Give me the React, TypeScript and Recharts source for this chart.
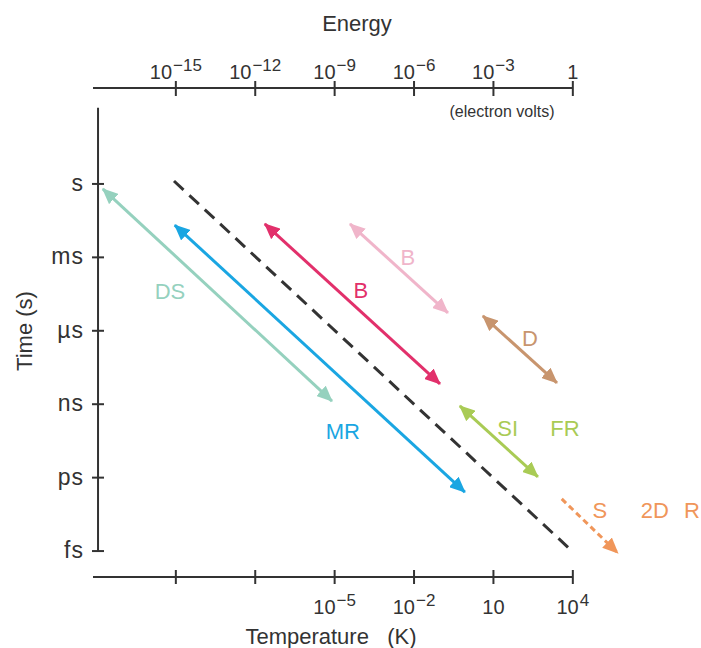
import React from 'react';
import {
  ComposedChart,
  Line,
  XAxis,
  YAxis,
  ReferenceLine,
  ReferenceDot,
} from 'recharts';

// log10 of energy (eV) on x, log10 of time (s) on y
const dsArrow = [
  { x: -17.76, y: -0.2 },
  { x: -9.1, y: -8.87 },
];
const mrArrow = [
  { x: -15.04, y: -1.68 },
  { x: -4.08, y: -12.59 },
];
const limitLine = [
  { x: -15.07, y: 0.12 },
  { x: -0.15, y: -14.88 },
];
const bDarkArrow = [
  { x: -11.64, y: -1.63 },
  { x: -5.02, y: -8.17 },
];
const bLightArrow = [
  { x: -8.42, y: -1.63 },
  { x: -4.72, y: -5.27 },
];
const dArrow = [
  { x: -3.4, y: -5.39 },
  { x: -0.6, y: -8.13 },
];
const siArrow = [
  { x: -4.27, y: -9.07 },
  { x: -1.32, y: -11.97 },
];
const sArrow = [
  { x: -0.42, y: -12.87 },
  { x: 1.7, y: -15.08 },
];

const timeTicks = [0, -3, -6, -9, -12, -15];
const timeLabels = ['s', 'ms', 'µs', 'ns', 'ps', 'fs'];

const energyTicks = [-15, -12, -9, -6, -3, 0];
const energyBase = ['10', '10', '10', '10', '10', '1'];
const energyExp = ['−15', '−12', '−9', '−6', '−3', ''];
const tempBase = ['', '', '10', '10', '10', '10'];
const tempExp = ['', '', '−5', '−2', '', '4'];

const labels = [
  { x: -15.22, y: -4.37, text: 'DS', color: '#95d1be' },
  { x: -8.69, y: -10.09, text: 'MR', color: '#1aa6e2' },
  { x: -8.01, y: -4.33, text: 'B', color: '#e2306b' },
  { x: -6.23, y: -2.98, text: 'B', color: '#f0b5ca' },
  { x: -1.62, y: -6.29, text: 'D', color: '#c8956e' },
  { x: -2.46, y: -9.97, text: 'SI', color: '#a9cb55' },
  { x: -0.3, y: -9.97, text: 'FR', color: '#a9cb55' },
  { x: 1.02, y: -13.32, text: 'S', color: '#f0965a' },
  { x: 3.1, y: -13.32, text: '2D', color: '#f0965a' },
  { x: 4.5, y: -13.32, text: 'R', color: '#f0965a' },
];

const X_DOMAIN: [number, number] = [-18.13, 2.5];
const Y_DOMAIN: [number, number] = [-16.06, 3.92];
const FONT = '"Liberation Sans", Arial, sans-serif';
const INK = '#333';

const markers = [
  { id: 'm-ds', color: '#95d1be' },
  { id: 'm-mr', color: '#1aa6e2' },
  { id: 'm-bd', color: '#e2306b' },
  { id: 'm-bl', color: '#f0b5ca' },
  { id: 'm-d', color: '#c8956e' },
  { id: 'm-si', color: '#a9cb55' },
  { id: 'm-s', color: '#f0965a' },
];

function TopTick(props: any) {
  const { x, payload } = props;
  const i = energyTicks.indexOf(payload.value);
  return (
    <g>
      <line x1={x} x2={x} y1={81} y2={96} stroke={INK} strokeWidth={2} />
      <text x={x} y={79} textAnchor="middle" fill={INK} fontSize={20} fontFamily={FONT}>
        <tspan>{energyBase[i]}</tspan>
        {energyExp[i] && (
          <tspan dx={1} dy={-8} fontSize={17}>
            {energyExp[i]}
          </tspan>
        )}
      </text>
    </g>
  );
}

function BottomTick(props: any) {
  const { x, payload } = props;
  const i = energyTicks.indexOf(payload.value);
  return (
    <g>
      <line x1={x} x2={x} y1={570} y2={584} stroke={INK} strokeWidth={2} />
      {tempBase[i] && (
        <text x={x} y={614} textAnchor="middle" fill={INK} fontSize={20} fontFamily={FONT}>
          <tspan>{tempBase[i]}</tspan>
          {tempExp[i] && (
            <tspan dx={1} dy={-8} fontSize={17}>
              {tempExp[i]}
            </tspan>
          )}
        </text>
      )}
    </g>
  );
}

function TimeTick(props: any) {
  const { y, payload } = props;
  const i = timeTicks.indexOf(payload.value);
  return (
    <g>
      <line x1={92} x2={104} y1={y} y2={y} stroke={INK} strokeWidth={2} />
      <text
        x={84}
        y={y + 7}
        textAnchor="end"
        fill={INK}
        fontSize={23}
        letterSpacing={1}
        fontFamily={FONT}
      >
        {timeLabels[i]}
      </text>
    </g>
  );
}

export default function App() {
  const arrow = (data: any[], color: string, id: string, both = true, dash?: string) => (
    <Line
      xAxisId="bottom"
      yAxisId="t"
      data={data}
      dataKey="y"
      type="linear"
      stroke={color}
      strokeWidth={3}
      strokeDasharray={dash}
      dot={false}
      activeDot={false}
      isAnimationActive={false}
      markerStart={both ? `url(#${id})` : undefined}
      markerEnd={`url(#${id})`}
    />
  );

  return (
    <div style={{ position: 'absolute', left: 0, top: 0, width: 701, height: 648, fontFamily: FONT }}>
      <svg width={0} height={0} style={{ position: 'absolute' }}>
        <defs>
          {markers.map((m) => (
            <marker
              key={m.id}
              id={m.id}
              viewBox="0 0 16 14"
              refX={15}
              refY={7}
              markerWidth={16}
              markerHeight={14}
              markerUnits="userSpaceOnUse"
              orient="auto-start-reverse"
            >
              <path d="M0,0 L16,7 L0,14 z" fill={m.color} />
            </marker>
          ))}
        </defs>
      </svg>
      <ComposedChart
        width={701}
        height={648}
        margin={{ top: 48, right: 62, bottom: 31, left: 33 }}
      >
        <XAxis
          xAxisId="top"
          orientation="top"
          type="number"
          dataKey="x"
          domain={X_DOMAIN}
          allowDataOverflow
          ticks={energyTicks}
          tick={<TopTick />}
          tickLine={false}
          axisLine={false}
          height={40}
        />
        <XAxis
          xAxisId="bottom"
          orientation="bottom"
          type="number"
          dataKey="x"
          domain={X_DOMAIN}
          allowDataOverflow
          ticks={energyTicks}
          tick={<BottomTick />}
          tickLine={false}
          axisLine={false}
          height={40}
        />
        <YAxis
          yAxisId="t"
          type="number"
          domain={Y_DOMAIN}
          allowDataOverflow
          ticks={timeTicks}
          tick={<TimeTick />}
          tickLine={false}
          axisLine={false}
          width={60}
        />
        <ReferenceLine
          xAxisId="bottom"
          yAxisId="t"
          segment={[{ x: -18.13, y: 3.92 }, { x: 0, y: 3.92 }]}
          stroke={INK}
          strokeWidth={2}
          ifOverflow="visible"
        />
        <ReferenceLine
          xAxisId="bottom"
          yAxisId="t"
          segment={[{ x: -18.13, y: -16.06 }, { x: 0, y: -16.06 }]}
          stroke={INK}
          strokeWidth={2}
          ifOverflow="visible"
        />
        <ReferenceLine
          xAxisId="bottom"
          yAxisId="t"
          segment={[{ x: -17.94, y: 3.11 }, { x: -17.94, y: -15.04 }]}
          stroke={INK}
          strokeWidth={2}
          ifOverflow="visible"
        />
        {arrow(dsArrow, '#95d1be', 'm-ds')}
        {arrow(mrArrow, '#1aa6e2', 'm-mr')}
        <Line
          xAxisId="bottom"
          yAxisId="t"
          data={limitLine}
          dataKey="y"
          type="linear"
          stroke={INK}
          strokeWidth={3}
          strokeDasharray="13 8"
          dot={false}
          activeDot={false}
          isAnimationActive={false}
        />
        {arrow(bDarkArrow, '#e2306b', 'm-bd')}
        {arrow(bLightArrow, '#f0b5ca', 'm-bl')}
        {arrow(dArrow, '#c8956e', 'm-d')}
        {arrow(siArrow, '#a9cb55', 'm-si')}
        {arrow(sArrow, '#f0965a', 'm-s', false, '6 4')}
        {labels.map((l, i) => (
          <ReferenceDot
            key={i}
            xAxisId="bottom"
            yAxisId="t"
            x={l.x}
            y={l.y}
            ifOverflow="visible"
            shape={(p: any) => (
              <text
                x={p.cx}
                y={p.cy + 8}
                textAnchor="middle"
                fill={l.color}
                fontSize={22}
                fontFamily={FONT}
              >
                {l.text}
              </text>
            )}
          />
        ))}
      </ComposedChart>
      <svg
        width={701}
        height={648}
        style={{ position: 'absolute', left: 0, top: 0, pointerEvents: 'none' }}
      >
        <text x={357} y={31} textAnchor="middle" fill={INK} fontSize={22} fontFamily={FONT}>
          Energy
        </text>
        <text x={502} y={117} textAnchor="middle" fill={INK} fontSize={16} fontFamily={FONT}>
          (electron volts)
        </text>
        <text x={331} y={644} textAnchor="middle" fill={INK} fontSize={22} fontFamily={FONT}>
          Temperature{'\u00a0\u00a0\u00a0'}(K)
        </text>
        <text
          x={32}
          y={331}
          textAnchor="middle"
          fill={INK}
          fontSize={22}
          fontFamily={FONT}
          transform="rotate(-90 32 331)"
        >
          Time (s)
        </text>
      </svg>
    </div>
  );
}
